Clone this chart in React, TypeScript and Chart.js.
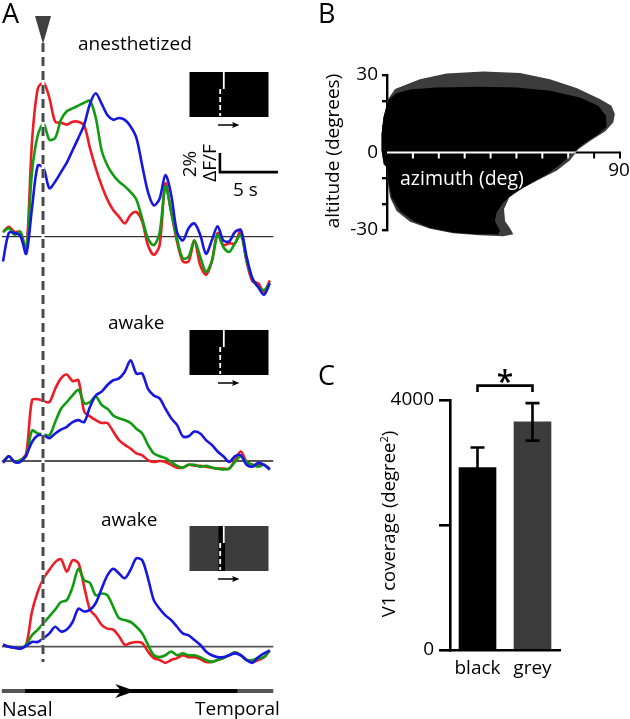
import React, { useEffect, useRef } from 'react';
import { Chart, registerables } from 'chart.js';

Chart.register(...registerables);

const FONT = '"Open Sans", "DejaVu Sans", sans-serif';
Chart.defaults.font.family = FONT;

// ---------- Panel A: ΔF/F (%) versus time (s) ----------
const TIMES = [0, 0.5, 1, 1.5, 2, 2.5, 3, 3.5, 4, 4.5, 5, 5.5, 6, 6.5, 7, 7.5, 8, 8.5, 9, 9.5, 10, 10.5, 11, 11.5, 12, 12.5, 13, 13.5, 14, 14.5, 15, 15.5, 16, 16.5, 17, 17.5, 18, 18.5, 19, 19.5, 20, 20.5, 21, 21.5, 22, 22.5, 23];

const ANES_RED = [0.5, 1.05, 0.5, 0.5, -1.4, 10.0, 15.6, 16.2, 14.6, 12.1, 12.0, 11.8, 12.1, 12.1, 11.7, 9.3, 7.2, 5.4, 3.9, 2.8, 2.1, 1.4, 2.3, 2.6, 1.6, -0.9, -1.9, -0.9, 5.6, 2.6, -0.5, -2.6, -2.6, -0.4, -3.0, -4.0, -2.6, 0.4, -0.9, -0.7, -0.7, 0.7, -2.6, -4.7, -4.9, -5.8, -4.6];
const ANES_GREEN = [0.5, 0.9, 0.2, 0.5, -1.4, 6.8, 10.7, 11.9, 10.2, 10.4, 12.3, 13.2, 13.5, 13.8, 14.1, 14.3, 12.5, 9.1, 7.5, 6.5, 5.8, 5.3, 4.7, 3.9, 1.9, -0.2, -0.9, 0.4, 5.3, 2.6, -0.2, -2.3, -2.1, -0.4, -2.1, -3.7, -2.6, 0.2, -1.1, -1.6, -0.7, 0.2, -2.5, -4.4, -5.3, -5.6, -4.9];
const ANES_BLUE = [-2.6, 0.4, 0.4, 0.1, -1.8, 3.0, 7.5, 7.2, 5.1, 5.8, 6.8, 7.8, 9.1, 10.4, 11.8, 14.0, 15.1, 14.0, 12.8, 12.3, 12.5, 12.3, 11.6, 10.4, 7.5, 4.7, 3.3, 4.0, 6.5, 4.4, 0.5, -0.4, 0.9, 1.4, 0.2, -1.8, -0.4, 1.1, -0.4, -0.5, 0.5, 0.7, -2.1, -4.4, -5.3, -6.1, -4.9];

const AWAKE_BLACK_RED = [-0.1, 0.5, -0.1, 0.1, 0.8, 6.4, 6.5, 6.3, 6.2, 7.6, 8.7, 9.1, 8.4, 8.5, 5.2, 4.7, 4.3, 4.0, 4.0, 3.1, 2.2, 1.7, 1.3, 0.8, 0.6, 0.1, -0.1, 0, -0.1, -0.4, -0.7, -0.7, -0.4, -0.5, -0.5, -0.6, -0.7, -0.8, -0.8, -0.8, 0.1, 1.0, -0.1, -0.4, -0.4, -0.4, -0.8];
const AWAKE_BLACK_GREEN = [-0.1, 0.5, -0.1, 0.1, 0.5, 3.2, 2.9, 2.8, 2.7, 4.1, 5.5, 6.2, 6.9, 7.5, 6.1, 6.2, 6.8, 5.9, 5.5, 4.8, 4.5, 4.3, 4.0, 3.4, 2.9, 1.7, 0.8, 0.5, 0.3, -0.1, -0.5, -0.7, -0.4, -0.4, -0.6, -0.5, -0.7, -0.8, -0.9, -0.8, -0.1, 0.5, -0.1, -0.4, -0.6, -0.4, -0.9];
const AWAKE_BLACK_BLUE = [-0.2, 0.5, -0.1, -0.1, 0.6, 2.0, 2.7, 2.7, 2.4, 2.9, 3.3, 3.6, 4.1, 4.3, 4.1, 5.7, 6.9, 7.3, 8.0, 8.5, 8.7, 9.4, 10.6, 9.2, 9.2, 7.6, 6.9, 6.6, 5.5, 4.5, 3.8, 2.6, 2.6, 3.1, 2.9, 2.2, 1.7, 1.0, 0.5, -0.1, 0.5, 0.6, -0.4, -0.6, -0.2, -0.4, -0.9];

const AWAKE_GREY_RED = [0.2, 0, -0.1, -0.2, 0.2, 3.7, 5.8, 7.2, 8.1, 8.9, 9.2, 7.9, 9.1, 8.8, 6.3, 3.9, 3.2, 2.3, 1.9, 1.8, 1.1, 0.2, 0.4, 0.5, 0.4, -0.5, -1.2, -1.4, -1.7, -1.4, -1.2, -0.9, -1.1, -1.1, -1.3, -1.6, -1.6, -1.4, -1.2, -0.9, -0.6, -0.9, -1.4, -1.6, -1.4, -1.1, -0.4];
const AWAKE_GREY_GREEN = [0.2, 0, -0.1, -0.2, 0.2, 1.2, 1.8, 2.5, 3.2, 3.9, 4.7, 4.9, 6.3, 8.2, 7.0, 6.7, 5.4, 5.6, 5.4, 4.2, 3.0, 2.8, 2.6, 2.1, 1.4, 0.2, -0.9, -1.1, -0.9, -0.5, -0.9, -0.7, -0.9, -0.9, -1.1, -1.4, -1.6, -1.4, -1.2, -0.9, -0.6, -0.9, -1.4, -1.4, -1.2, -1.1, -0.4];
const AWAKE_GREY_BLUE = [0.2, 0, -0.1, -0.2, 0.1, 0.5, 0.5, 0.9, 1.4, 2.1, 1.6, 1.8, 2.6, 4.0, 3.7, 3.9, 4.6, 6.1, 7.5, 8.2, 7.7, 7.2, 8.1, 9.3, 9.1, 7.2, 4.9, 4.0, 3.3, 2.8, 2.1, 1.4, 1.2, 0.7, 0.2, -0.5, -0.9, -1.1, -1.1, -0.9, -0.7, -0.9, -1.4, -1.7, -1.1, -0.7, -0.4];

const STIM_ONSET = 3.45; // s, dashed line / triangle
const TRACE_START = -0.1;
const TRACE_END = 23.3;
const SWEEP_START = 1.9;
const SWEEP_END = 20.2;
const SWEEP_ARROW = 11.4;
const SCALE_T = 18.7; // scale bar anchor (s)
const SCALE_V = 6.8; // scale bar anchor (%)
const SCALE_DT = 5; // 5 s
const SCALE_DV = 2; // 2 %

// ---------- Panel B: visual field coverage (azimuth, altitude in degrees) ----------
const BLACK_AZ = [0, -1.4, -2.1, -2.1, -1.2, 0, 0.5, 1.8, 5.0, 10.2, 16.6, 25.6, 34.6, 43.0, 43.6, 41.7, 42.3, 44.9, 48.8, 55.2, 62.3, 67.4, 71.3, 75.8, 81.6, 84.8, 84.6, 81.6, 74.5, 62.9, 50.1, 35.9, 19.2, 8.9, 3.7, 0.5];
const BLACK_ALT = [18.8, 13.6, 7.1, 0.7, -4.5, -5.8, -11.0, -17.4, -22.6, -26.5, -29.1, -31.0, -31.6, -31.6, -30.3, -26.5, -23.3, -19.4, -15.9, -12.2, -8.1, -4.3, -0.4, 3.3, 7.1, 10.0, 14.2, 18.1, 21.3, 23.9, 25.2, 25.5, 25.2, 24.4, 22.9, 20.3];
const GREY_AZ = [0, 3.1, 12.7, 23.0, 37.2, 51.4, 62.9, 73.2, 82.2, 86.7, 88.0, 87.4, 84.2, 78.4, 73.9, 70.7, 65.5, 59.1, 52.6, 47.2, 45.2, 45.6, 47.5, 48.8, 44.9, 35.9, 25.6, 16.6, 8.9, 3.7, 1.2, 0.2, 0, -1.3, -2.1, -2.1, -1.3, 0];
const GREY_ALT = [20.0, 24.6, 28.4, 30.6, 31.4, 30.8, 28.4, 25.0, 20.7, 18.1, 14.9, 11.6, 8.1, 4.5, 1.3, -3.0, -7.1, -10.3, -13.6, -17.4, -21.9, -26.5, -29.3, -31.6, -32.4, -32.0, -31.3, -29.5, -26.8, -22.6, -17.4, -11.0, -5.8, -4.5, 0.7, 7.1, 13.6, 18.8];
const ALT_TICK_LABELS = [30, 0, -30];

// ---------- Panel C: V1 coverage ----------
const COVER_CATEGORIES = ['black', 'grey'];
const COVER_VALUES = [2920, 3650];
const COVER_ERRORS = [320, 300];
const COVER_TICK_LABELS = [0, 4000];
const BRACKET_LEVEL = 4230;
const BRACKET_LEG = 4130;

// ---------- Styling / layout constants ----------
const RED = '#ee1c25';
const GREEN = '#119b11';
const BLUE = '#1717e2';
const DARK_GREY = '#3c3c3c';

const A_W = 300;
const X0_PX = 3; // pixel of t = 0
const PX_PER_S = 11.6;
const PX_PER_PCT = 9.5;
const ONSET_TOP = 43;

type TraceProps = {
  top: number;
  height: number;
  baseline: number;
  red: number[];
  green: number[];
  blue: number[];
  variant: 'first' | 'middle' | 'last';
};

function TraceChart({ top, height, baseline, red, green, blue, variant }: TraceProps) {
  const ref = useRef<HTMLCanvasElement>(null);
  useEffect(() => {
    const toXY = (arr: number[]) => TIMES.map((t, i) => ({ x: t, y: arr[i] }));
    const decor = {
      id: 'decor',
      beforeDatasetsDraw(chart: any) {
        const { ctx } = chart;
        const xs = chart.scales.x;
        const ys = chart.scales.y;
        ctx.save();
        ctx.strokeStyle = variant === 'first' ? '#333' : '#555';
        ctx.lineWidth = variant === 'first' ? 1.2 : 1.8;
        const y0 = ys.getPixelForValue(0);
        ctx.beginPath();
        ctx.moveTo(xs.getPixelForValue(TRACE_START), y0);
        ctx.lineTo(xs.getPixelForValue(TRACE_END), y0);
        ctx.stroke();
        ctx.restore();
      },
      afterDatasetsDraw(chart: any) {
        const { ctx } = chart;
        const xs = chart.scales.x;
        const ys = chart.scales.y;
        const xOn = xs.getPixelForValue(STIM_ONSET);
        const yStart = variant === 'first' ? ONSET_TOP : 0;
        const yEnd = variant === 'last' ? 182 : height;
        ctx.save();
        ctx.lineWidth = 3;
        ctx.strokeStyle = '#fff';
        ctx.beginPath();
        ctx.moveTo(xOn, yStart);
        ctx.lineTo(xOn, yEnd);
        ctx.stroke();
        ctx.setLineDash([9, 5]);
        ctx.lineDashOffset = top + yStart - ONSET_TOP;
        ctx.strokeStyle = '#4a4a4a';
        ctx.beginPath();
        ctx.moveTo(xOn, yStart);
        ctx.lineTo(xOn, yEnd);
        ctx.stroke();
        ctx.restore();

        if (variant === 'first') {
          ctx.save();
          ctx.fillStyle = '#404040';
          ctx.beginPath();
          ctx.moveTo(xOn - 8, 16);
          ctx.lineTo(xOn + 8, 16);
          ctx.lineTo(xOn, ONSET_TOP + 1);
          ctx.closePath();
          ctx.fill();
          // scale bar (2 % / 5 s)
          ctx.strokeStyle = '#000';
          ctx.lineWidth = 2.6;
          ctx.beginPath();
          ctx.moveTo(xs.getPixelForValue(SCALE_T), ys.getPixelForValue(SCALE_V + SCALE_DV));
          ctx.lineTo(xs.getPixelForValue(SCALE_T), ys.getPixelForValue(SCALE_V));
          ctx.lineTo(xs.getPixelForValue(SCALE_T + SCALE_DT), ys.getPixelForValue(SCALE_V));
          ctx.stroke();
          ctx.restore();
        }
        if (variant === 'last') {
          const yb = 211;
          ctx.save();
          ctx.lineWidth = 4;
          ctx.strokeStyle = '#555';
          ctx.beginPath();
          ctx.moveTo(xs.getPixelForValue(TRACE_START), yb);
          ctx.lineTo(xs.getPixelForValue(TRACE_END), yb);
          ctx.stroke();
          ctx.strokeStyle = '#000';
          ctx.beginPath();
          ctx.moveTo(xs.getPixelForValue(SWEEP_START), yb);
          ctx.lineTo(xs.getPixelForValue(SWEEP_END), yb);
          ctx.stroke();
          const tip = xs.getPixelForValue(SWEEP_ARROW);
          ctx.fillStyle = '#000';
          ctx.beginPath();
          ctx.moveTo(tip, yb);
          ctx.lineTo(tip - 20, yb - 7);
          ctx.lineTo(tip - 14, yb);
          ctx.lineTo(tip - 20, yb + 7);
          ctx.closePath();
          ctx.fill();
          ctx.restore();
        }
      },
    };
    const line = (data: number[], color: string) => ({
      data: toXY(data),
      borderColor: color,
      borderWidth: 2.6,
      pointRadius: 0,
      tension: 0.3,
      fill: false,
    });
    const chart = new Chart(ref.current as HTMLCanvasElement, {
      type: 'line',
      data: { datasets: [line(blue, BLUE), line(green, GREEN), line(red, RED)] as any },
      options: {
        animation: false,
        responsive: false,
        events: [],
        layout: { padding: 0, autoPadding: false },
        plugins: { legend: { display: false }, tooltip: { enabled: false } },
        scales: {
          x: { type: 'linear', display: false, min: -X0_PX / PX_PER_S, max: (A_W - X0_PX) / PX_PER_S },
          y: { type: 'linear', display: false, min: -(height - baseline) / PX_PER_PCT, max: baseline / PX_PER_PCT },
        },
      } as any,
      plugins: [decor],
    });
    return () => chart.destroy();
  }, []);
  return (
    <canvas ref={ref} width={A_W} height={height} style={{ position: 'absolute', left: 0, top, width: A_W, height }} />
  );
}

function CoverageMap() {
  const ref = useRef<HTMLCanvasElement>(null);
  useEffect(() => {
    const zip = (a: number[], b: number[]) => a.map((v, i) => ({ x: v, y: b[i] }));
    const shapes = {
      id: 'shapes',
      beforeDraw(chart: any) {
        const { ctx } = chart;
        ctx.save();
        ctx.fillStyle = '#fff';
        ctx.fillRect(0, 0, chart.width, chart.height);
        ctx.restore();
      },
      beforeDatasetsDraw(chart: any) {
        const { ctx } = chart;
        [1, 0].forEach((i) => {
          const pts = chart.getDatasetMeta(i).data;
          ctx.save();
          ctx.beginPath();
          pts.forEach((p: any, k: number) => (k ? ctx.lineTo(p.x, p.y) : ctx.moveTo(p.x, p.y)));
          ctx.closePath();
          ctx.fillStyle = chart.data.datasets[i].backgroundColor;
          ctx.fill();
          ctx.restore();
        });
      },
      afterDatasetsDraw(chart: any) {
        const { ctx } = chart;
        const xs = chart.scales.x;
        const ys = chart.scales.y;
        const y0 = ys.getPixelForValue(0);
        ctx.save();
        ctx.globalCompositeOperation = 'difference';
        ctx.strokeStyle = '#fff';
        ctx.lineWidth = 2;
        ctx.beginPath();
        ctx.moveTo(xs.getPixelForValue(0), y0);
        ctx.lineTo(xs.getPixelForValue(90) + 1, y0);
        for (let a = 10; a <= 90; a += 10) {
          const x = xs.getPixelForValue(a);
          ctx.moveTo(x, y0 + 1);
          ctx.lineTo(x, y0 + 6);
        }
        ctx.stroke();
        ctx.restore();
        ctx.save();
        ctx.fillStyle = '#000';
        ctx.font = `19px ${FONT}`;
        ctx.textAlign = 'center';
        ctx.textBaseline = 'alphabetic';
        ctx.fillText('90', xs.getPixelForValue(90) - 1, y0 + 23);
        ctx.restore();
      },
    };
    const chart = new Chart(ref.current as HTMLCanvasElement, {
      type: 'scatter',
      data: {
        datasets: [
          { data: zip(BLACK_AZ, BLACK_ALT), backgroundColor: '#000', pointRadius: 0, showLine: false },
          { data: zip(GREY_AZ, GREY_ALT), backgroundColor: DARK_GREY, pointRadius: 0, showLine: false },
        ],
      },
      options: {
        animation: false,
        responsive: false,
        events: [],
        layout: { padding: { left: 0, top: 35, right: 10, bottom: 30 }, autoPadding: false },
        plugins: { legend: { display: false }, tooltip: { enabled: false } },
        scales: {
          x: { type: 'linear', display: false, min: 0, max: 90 },
          y: {
            type: 'linear',
            min: -30,
            max: 30,
            afterFit: (s: any) => {
              s.width = 87;
            },
            ticks: {
              stepSize: 10,
              color: '#000',
              padding: 4,
              font: { size: 19, family: FONT },
              callback: (v: any) => (ALT_TICK_LABELS.includes(v) ? String(v) : ''),
            },
            grid: { drawOnChartArea: false, color: '#000', lineWidth: 2.4, tickLength: 5 },
            border: { color: '#000', width: 2.4 },
          },
        },
      } as any,
      plugins: [shapes],
    });
    return () => chart.destroy();
  }, []);
  return <canvas ref={ref} width={330} height={220} style={{ position: 'absolute', left: 300, top: 40, width: 330, height: 220 }} />;
}

function CoverageBars() {
  const ref = useRef<HTMLCanvasElement>(null);
  useEffect(() => {
    const errs = {
      id: 'errs',
      afterDatasetsDraw(chart: any) {
        const { ctx } = chart;
        const ys = chart.scales.y;
        const bars = chart.getDatasetMeta(0).data;
        ctx.save();
        ctx.strokeStyle = '#000';
        ctx.lineWidth = 2.6;
        bars.forEach((b: any, i: number) => {
          const yt = ys.getPixelForValue(COVER_VALUES[i] + COVER_ERRORS[i]);
          const yb = ys.getPixelForValue(COVER_VALUES[i] - COVER_ERRORS[i]);
          ctx.beginPath();
          ctx.moveTo(b.x, yb);
          ctx.lineTo(b.x, yt);
          ctx.moveTo(b.x - 7, yt);
          ctx.lineTo(b.x + 7, yt);
          ctx.moveTo(b.x - 7, yb);
          ctx.lineTo(b.x + 7, yb);
          ctx.stroke();
        });
        const yB = ys.getPixelForValue(BRACKET_LEVEL);
        const yL = ys.getPixelForValue(BRACKET_LEG);
        ctx.beginPath();
        ctx.moveTo(bars[0].x, yL);
        ctx.lineTo(bars[0].x, yB);
        ctx.lineTo(bars[1].x, yB);
        ctx.lineTo(bars[1].x, yL);
        ctx.stroke();
        ctx.fillStyle = '#000';
        ctx.font = `600 30px ${FONT}`;
        ctx.textAlign = 'center';
        ctx.textBaseline = 'alphabetic';
        ctx.fillText('*', (bars[0].x + bars[1].x) / 2, yB + 6);
        ctx.restore();
      },
    };
    const chart = new Chart(ref.current as HTMLCanvasElement, {
      type: 'bar',
      data: {
        labels: COVER_CATEGORIES,
        datasets: [{ data: COVER_VALUES, backgroundColor: ['#000', DARK_GREY], borderWidth: 0, barThickness: 37 }],
      },
      options: {
        animation: false,
        responsive: false,
        events: [],
        layout: { padding: { left: 0, top: 70, right: 70, bottom: 0 }, autoPadding: false },
        plugins: { legend: { display: false }, tooltip: { enabled: false } },
        scales: {
          x: {
            afterFit: (s: any) => {
              s.height = 69;
            },
            grid: { display: false, drawTicks: false },
            border: { color: '#000', width: 2.6 },
            ticks: { color: '#000', padding: 7, font: { size: 19, family: FONT } },
          },
          y: {
            min: 0,
            max: 4000,
            afterFit: (s: any) => {
              s.width = 80;
            },
            ticks: {
              stepSize: 2000,
              color: '#000',
              padding: 5,
              font: { size: 19, family: FONT },
              callback: (v: any) => (COVER_TICK_LABELS.includes(v) ? String(v) : ''),
            },
            grid: { drawOnChartArea: false, color: '#000', lineWidth: 2.6, tickLength: 11 },
            border: { color: '#000', width: 2.6 },
          },
        },
      } as any,
      plugins: [errs],
    });
    return () => chart.destroy();
  }, []);
  return <canvas ref={ref} width={260} height={389} style={{ position: 'absolute', left: 370, top: 330, width: 260, height: 389 }} />;
}

function Txt({ x, base, size, children, color = '#000' }: any) {
  return (
    <div
      style={{
        position: 'absolute',
        left: x,
        top: base - 0.888 * size,
        fontSize: size,
        lineHeight: `${size}px`,
        fontFamily: FONT,
        color,
        whiteSpace: 'nowrap',
      }}
    >
      {children}
    </div>
  );
}

function VTxt({ cx, cy, size, children }: any) {
  return (
    <div
      style={{
        position: 'absolute',
        left: cx,
        top: cy,
        fontSize: size,
        lineHeight: `${size}px`,
        fontFamily: FONT,
        whiteSpace: 'nowrap',
        transform: 'translate(-50%, -50%) rotate(-90deg)',
      }}
    >
      {children}
    </div>
  );
}

function Inset({ top, fill }: { top: number; fill: string }) {
  return (
    <g>
      <rect x={189.5} y={top} width={79} height={45} fill={fill} />
      {fill !== '#000' && <rect x={218.5} y={top} width={6.5} height={45} fill="#000" />}
      <line x1={223.8} y1={top} x2={223.8} y2={top + 17} stroke="#fff" strokeWidth={1.8} />
      <line x1={220.2} y1={top + 17} x2={220.2} y2={top + 44} stroke="#fff" strokeWidth={1.8} strokeDasharray="5 3" />
      <line x1={218} y1={top + 53} x2={234} y2={top + 53} stroke="#000" strokeWidth={1.5} />
      <polygon points={`239.5,${top + 53} 232,${top + 50} 233.5,${top + 53} 232,${top + 56}`} fill="#000" />
    </g>
  );
}

export default function App() {
  return (
    <div
      style={{
        position: 'absolute',
        left: 0,
        top: 0,
        width: 630,
        height: 719,
        background: '#fff',
        overflow: 'hidden',
        fontFamily: FONT,
      }}
    >
      <TraceChart top={0} height={300} baseline={236.7} red={ANES_RED} green={ANES_GREEN} blue={ANES_BLUE} variant="first" />
      <TraceChart top={300} height={180} baseline={161} red={AWAKE_BLACK_RED} green={AWAKE_BLACK_GREEN} blue={AWAKE_BLACK_BLUE} variant="middle" />
      <TraceChart top={480} height={239} baseline={166.7} red={AWAKE_GREY_RED} green={AWAKE_GREY_GREEN} blue={AWAKE_GREY_BLUE} variant="last" />
      <CoverageMap />
      <CoverageBars />

      <svg width={630} height={719} style={{ position: 'absolute', left: 0, top: 0, pointerEvents: 'none' }}>
        <Inset top={72} fill="#000" />
        <Inset top={330} fill="#000" />
        <Inset top={526} fill={DARK_GREY} />
      </svg>

      <Txt x={2} base={23} size={27}>A</Txt>
      <Txt x={318} base={23} size={27}>B</Txt>
      <Txt x={318} base={385} size={27}>C</Txt>

      <Txt x={78} base={51} size={19}>anesthetized</Txt>
      <Txt x={108} base={330} size={19}>awake</Txt>
      <Txt x={101} base={527} size={19}>awake</Txt>
      <VTxt cx={189} cy={163.5} size={19}>2%</VTxt>
      <VTxt cx={208.5} cy={162.5} size={19}>ΔF/F</VTxt>
      <Txt x={233} base={197} size={19}>5 s</Txt>
      <Txt x={2} base={716} size={19.5}>Nasal</Txt>
      <Txt x={195} base={716} size={19}>Temporal</Txt>

      <VTxt cx={332} cy={151} size={19}>altitude (degrees)</VTxt>
      <Txt x={400} base={185} size={19.5} color="#fff">azimuth (deg)</Txt>

      <VTxt cx={388} cy={524} size={18.5}>
        V1 coverage (degree<sup style={{ fontSize: 11, lineHeight: 0, verticalAlign: 'super' }}>2</sup>)
      </VTxt>
    </div>
  );
}
